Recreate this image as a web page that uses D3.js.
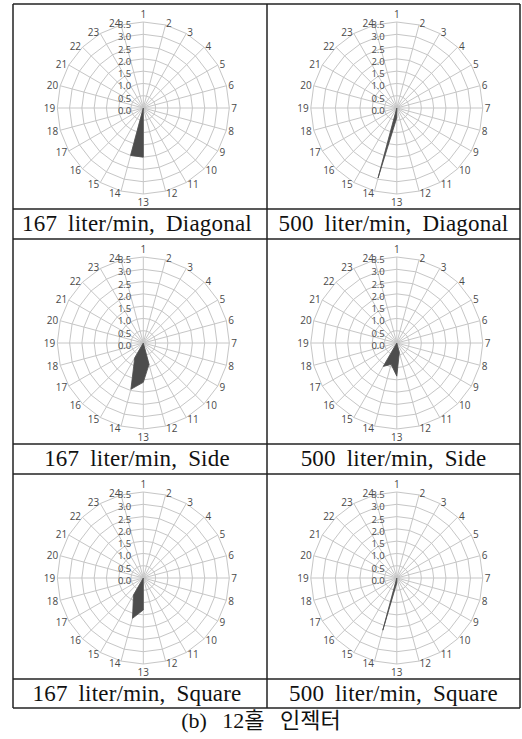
<!DOCTYPE html>
<html>
<head>
<meta charset="utf-8">
<script src="https://d3js.org/d3.v7.min.js"></script>
<style>
body { margin: 0; background: #fff; }
.lbl { font-family: "Open Sans", "Noto Sans", sans-serif; fill: #4a4a4a; }
.cap { font-family: "Liberation Serif", "Noto Sans CJK KR", serif; fill: #111; }
</style>
</head>
<body>
<svg id="chart" width="522" height="739"></svg>
<script>
// spoke labels, clockwise from the top
const categories = ["1","2","3","4","5","6","7","8","9","10","11","12",
                    "13","14","15","16","17","18","19","20","21","22","23","24"];
const rTicks = [0, 0.5, 1, 1.5, 2, 2.5, 3, 3.5];
const rTickLabels = ["0.0","0.5","1.0","1.5","2.0","2.5","3.0","3.5"];

// values per spoke (1..24)
const diag167   = [0,0,0,0,0,0,0,0,0,0,0,0,   2.0, 2.0, 0,   0,0,0,0,0,0,0,0,0];
const diag500   = [0,0,0,0,0,0,0,0,0,0,0,0,   0.4, 2.95,0,   0,0,0,0,0,0,0,0,0];
const side167   = [0,0,0,0,0,0,0,0,0,0,0,0.9, 1.6, 1.95,0.7, 0,0,0,0,0,0,0,0,0];
const side500   = [0,0,0,0,0,0,0,0,0,0,0,0.4, 1.35,0.9, 1.1, 0,0,0,0,0,0,0,0,0];
const square167 = [0,0,0,0,0,0,0,0,0,0,0,0,   1.3, 1.7, 0.8, 0,0,0,0,0,0,0,0,0];
const square500 = [0,0,0,0,0,0,0,0,0,0,0,0,   0.2, 2.2, 0,   0,0,0,0,0,0,0,0,0];

const titles = ["167 liter/min, Diagonal", "500 liter/min, Diagonal",
                "167 liter/min, Side",     "500 liter/min, Side",
                "167 liter/min, Square",   "500 liter/min, Square"];
const series = [diag167, diag500, side167, side500, square167, square500];
const figCaption = "(b) 12홀 인젝터";

const svg = d3.select("#chart");

// table grid
const colX = [13, 267, 520];
const rowY = [4, 209, 239, 444, 474, 679, 708];

const R = 86;
const r = d3.scaleLinear().domain([0, 3.5]).range([0, R]);
const ang = d3.scaleLinear().domain([0, categories.length]).range([0, 2 * Math.PI]);

const radial = d3.lineRadial()
    .angle((d, i) => ang(i))
    .radius(d => r(d))
    .curve(d3.curveLinearClosed);

// excel-ish label placement around the rim
const labR = 88;
function catPos(k) {
  const s = Math.sin(ang(k)), c = Math.cos(ang(k));
  if (Math.abs(s) < 0.01) return { x: 0, y: -c * 94, anchor: "middle" };
  return { x: s * labR, y: -c * labR, anchor: s > 0 ? "start" : "end" };
}

series.forEach((vals, i) => {
  const col = i % 2, row = Math.floor(i / 2);
  const top = rowY[row * 2];
  const cx = (colX[col] + colX[col + 1]) / 2 + 3.3;
  const cy = top + 104;
  const g = svg.append("g").attr("transform", `translate(${cx},${cy})`);

  // rings
  g.selectAll("path.ring")
    .data(rTicks.slice(1))
    .join("path")
      .attr("class", "ring")
      .attr("d", t => radial(categories.map(() => t)))
      .attr("fill", "none")
      .attr("stroke", "#c6c6c6")
      .attr("stroke-width", 1);

  // spokes
  g.selectAll("line.spoke")
    .data(categories)
    .join("line")
      .attr("class", "spoke")
      .attr("x1", 0).attr("y1", 0)
      .attr("x2", (d, k) => r(3.5) * Math.sin(ang(k)))
      .attr("y2", (d, k) => -r(3.5) * Math.cos(ang(k)))
      .attr("stroke", "#c6c6c6")
      .attr("stroke-width", 1);

  // data polygon
  g.append("path")
    .attr("d", radial(vals))
    .attr("fill", "#4d4d4d")
    .attr("stroke", "#4d4d4d")
    .attr("stroke-width", 0.8);

  // spoke labels
  g.selectAll("text.cat")
    .data(categories)
    .join("text")
      .attr("class", "lbl")
      .attr("x", (d, k) => catPos(k).x)
      .attr("y", (d, k) => catPos(k).y)
      .attr("text-anchor", (d, k) => catPos(k).anchor)
      .attr("dominant-baseline", "central")
      .attr("font-size", 10)
      .text(d => d);

  // value labels
  g.selectAll("text.val")
    .data(rTicks)
    .join("text")
      .attr("class", "lbl")
      .attr("x", -12)
      .attr("y", t => -r(t) + 2.5)
      .attr("text-anchor", "end")
      .attr("dominant-baseline", "central")
      .attr("font-size", 9.5)
      .text((t, k) => rTickLabels[k]);

  // caption cell text
  svg.append("text")
    .attr("class", "cap")
    .attr("x", (colX[col] + colX[col + 1]) / 2 - (col === 0 ? 3 : 0))
    .attr("y", rowY[row * 2 + 1] + 22)
    .attr("text-anchor", "middle")
    .attr("font-size", 23)
    .attr("word-spacing", 5)
    .attr("letter-spacing", 0.2)
    .text(titles[i]);
});

// table lines
const lines = svg.append("g").attr("stroke", "#222").attr("stroke-width", 1.5);
rowY.forEach(y => lines.append("line")
  .attr("x1", colX[0]).attr("x2", colX[2]).attr("y1", y).attr("y2", y));
colX.forEach(x => lines.append("line")
  .attr("x1", x).attr("x2", x).attr("y1", rowY[0]).attr("y2", rowY[rowY.length - 1]));

svg.append("text")
  .attr("class", "cap")
  .attr("x", 261)
  .attr("y", 728)
  .attr("text-anchor", "middle")
  .attr("font-size", 22)
  .attr("word-spacing", 10)
  .text(figCaption);
</script>
</body>
</html>
